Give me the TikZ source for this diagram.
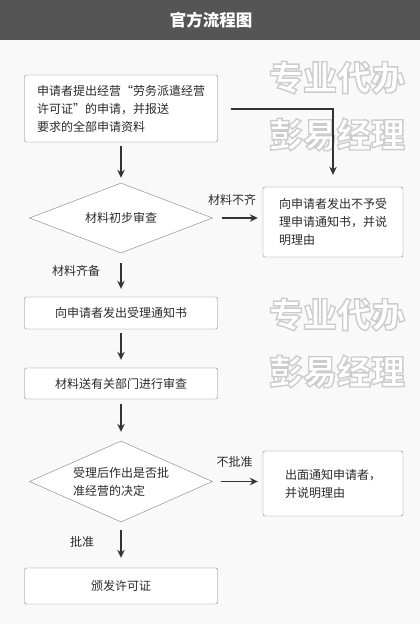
\documentclass[tikz,border=0pt]{standalone}
\usepackage{fontspec}
\setmainfont{Noto Sans CJK SC}
\usetikzlibrary{shapes.geometric,arrows.meta}
\definecolor{bggray}{HTML}{F9F9F9}
\definecolor{headgray}{HTML}{555555}
\definecolor{boxgray}{HTML}{808080}
\definecolor{linegray}{HTML}{333333}
\definecolor{textgray}{HTML}{2B2B2B}
\newcommand\outlined[1]{\special{pdf:literal direct 2 Tr 1.4 w 0.8 0.8 0.8 RG}#1\special{pdf:literal direct 0 Tr}}
\tikzset{
  every node/.style={font=\fontsize{12}{18}\selectfont, text=textgray},
  stepbox/.style={draw=boxgray, fill=white, rounded corners=2pt, align=left, inner sep=0pt},
  checkbox/.style={draw=boxgray, fill=white, diamond, aspect=2.4, align=left, inner sep=0pt},
  flow/.style={draw=linegray, line width=1.5pt, -{Stealth[length=8pt,width=7.5pt]}},
  wm/.style={font=\fontsize{34}{57}\bfseries, text=white, align=center}
}
\begin{document}
\begin{tikzpicture}[x=1pt,y=-1pt]
  \useasboundingbox[fill=bggray] (0,0) rectangle (420,624);
  \fill[headgray] (0,0) rectangle (420,40);
  \node[text=white, font=\fontsize{16.5}{20}\bfseries\selectfont] (title) at (211,20) {官方流程图};
  % watermark
  \node[wm] (mark1) at (337,106) {\outlined{专业代办}\\\outlined{彭易经理}};
  \node[wm] (mark2) at (337,343) {\outlined{专业代办}\\\outlined{彭易经理}};
  % steps
  \node[stepbox, minimum width=193pt, minimum height=67pt] (apply) at (121,108.5)
    {申请者提出经营“劳务派遣经营\\许可证”的申请，并报送\\要求的全部申请资料};
  \node[checkbox, minimum width=183pt, minimum height=70pt] (check) at (121,218) {材料初步审查};
  \node[stepbox, minimum width=140pt, minimum height=70pt] (reject) at (333,222)
    {向申请者发出不予受\\理申请通知书，并说\\明理由};
  \node[stepbox, minimum width=193pt, minimum height=32pt] (accept) at (121,313) {向申请者发出受理通知书};
  \node[stepbox, minimum width=193pt, minimum height=31pt] (review) at (121,383.5) {材料送有关部门进行审查};
  \node[checkbox, minimum width=183pt, minimum height=81pt] (decide) at (121,481.5)
    {受理后作出是否批\\准经营的决定};
  \node[stepbox, minimum width=140pt, minimum height=65pt] (deny) at (333,483.5)
    {出面通知申请者，\\并说明理由};
  \node[stepbox, minimum width=193pt, minimum height=36pt] (license) at (121,586) {颁发许可证};
  % labels
  \node (lackl) at (232,200) {材料不齐};
  \node (fulll) at (76,271) {材料齐备};
  \node (denyl) at (234.5,462) {不批准};
  \node (okl) at (82,542) {批准};
  % arrows
  \draw[flow, shorten <=4pt, shorten >=5pt] (apply.south) -- (check.north);
  \draw[flow, shorten <=13pt, shorten >=12pt] (apply.east |- 0,109) -| (reject.north);
  \draw[flow, shorten <=9pt, shorten >=5pt] (check.east) -- (check.east -| reject.west);
  \draw[flow, shorten <=10pt, shorten >=8pt] (check.south) -- (accept.north);
  \draw[flow, shorten <=4pt, shorten >=8pt] (accept.south) -- (review.north);
  \draw[flow, shorten <=5pt, shorten >=9pt] (review.south) -- (decide.north);
  \draw[flow, shorten <=8pt, shorten >=5pt] (decide.east) -- (decide.east -| deny.west);
  \draw[flow, shorten <=8pt, shorten >=10pt] (decide.south) -- (license.north);
\end{tikzpicture}
\end{document}
